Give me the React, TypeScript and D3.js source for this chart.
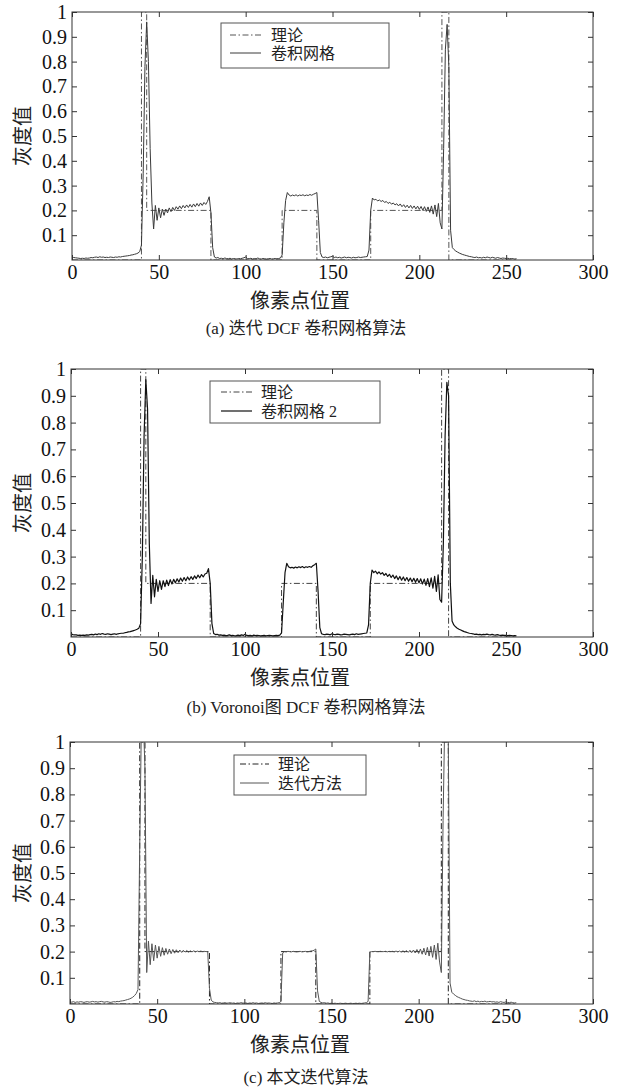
import React, { useEffect, useRef } from "react";
import * as d3 from "d3";

const W = 642;
const H = 1089;

// tick values
const xTicks = [0, 50, 100, 150, 200, 250, 300];
const yTicks = [0.1, 0.2, 0.3, 0.4, 0.5, 0.6, 0.7, 0.8, 0.9, 1];

// theoretical profile (vertices)
const theoryX = [0, 40, 40, 43, 43, 80, 80, 121, 121, 141, 141, 172, 172, 213, 213, 217, 217, 256];
const theoryY = [0, 0, 1, 1, 0.2, 0.2, 0, 0, 0.2, 0.2, 0, 0, 0.2, 0.2, 1, 1, 0, 0];

// (a) iterative DCF gridding, one value per pixel 0..256
const gridA = [
  0.012, 0.010, 0.009, 0.008, 0.007, 0.006, 0.007, 0.006, 0.008, 0.007,
  0.008, 0.010, 0.009, 0.011, 0.012, 0.010, 0.013, 0.011, 0.012, 0.010,
  0.011, 0.010, 0.012, 0.011, 0.010, 0.012, 0.011, 0.013, 0.012, 0.014,
  0.015, 0.016, 0.017, 0.018, 0.020, 0.021, 0.023, 0.025, 0.028, 0.034,
  0.060, 0.350, 0.780, 0.960, 0.800, 0.450, 0.230, 0.125, 0.220, 0.160,
  0.210, 0.170, 0.205, 0.180, 0.205, 0.190, 0.210, 0.195, 0.212, 0.200,
  0.215, 0.205, 0.218, 0.207, 0.220, 0.210, 0.222, 0.212, 0.224, 0.213,
  0.226, 0.215, 0.228, 0.217, 0.230, 0.220, 0.232, 0.224, 0.236, 0.255,
  0.190, 0.050, 0.012, 0.008, 0.010, 0.006, 0.007, 0.005, 0.008, 0.006,
  0.005, 0.007, 0.004, 0.006, 0.005, 0.004, 0.006, 0.005, 0.007, 0.009,
  0.012, 0.006, 0.005, 0.007, 0.004, 0.006, 0.005, 0.008, 0.005, 0.004,
  0.006, 0.005, 0.004, 0.005, 0.006, 0.004, 0.005, 0.006, 0.005, 0.006,
  0.008, 0.020, 0.150, 0.240, 0.272, 0.262, 0.258, 0.262, 0.259, 0.263,
  0.258, 0.262, 0.260, 0.263, 0.259, 0.262, 0.260, 0.264, 0.261, 0.265,
  0.268, 0.272, 0.160, 0.030, 0.012, 0.010, 0.012, 0.009, 0.011, 0.013,
  0.015, 0.010, 0.012, 0.009, 0.011, 0.008, 0.010, 0.012, 0.009, 0.011,
  0.010, 0.008, 0.011, 0.009, 0.010, 0.012, 0.010, 0.011, 0.012, 0.013,
  0.014, 0.040, 0.200, 0.250, 0.242, 0.245, 0.238, 0.242, 0.236, 0.240,
  0.232, 0.236, 0.228, 0.233, 0.225, 0.230, 0.222, 0.227, 0.218, 0.226,
  0.215, 0.223, 0.212, 0.221, 0.210, 0.220, 0.208, 0.218, 0.206, 0.217,
  0.204, 0.216, 0.200, 0.215, 0.196, 0.214, 0.192, 0.218, 0.185, 0.222,
  0.175, 0.228, 0.150, 0.125, 0.450, 0.850, 0.950, 0.780, 0.120, 0.050,
  0.042, 0.036, 0.032, 0.028, 0.025, 0.022, 0.020, 0.018, 0.016, 0.014,
  0.013, 0.011, 0.010, 0.012, 0.009, 0.010, 0.008, 0.011, 0.009, 0.012,
  0.010, 0.008, 0.011, 0.009, 0.007, 0.010, 0.008, 0.006, 0.008, 0.007,
  0.006, 0.007, 0.005, 0.006, 0.005, 0.004, 0.005,
];

// (b) Voronoi DCF gridding
const gridB = [
  0.012, 0.009, 0.008, 0.008, 0.006, 0.007, 0.006, 0.007, 0.006, 0.008,
  0.007, 0.009, 0.010, 0.008, 0.011, 0.009, 0.012, 0.010, 0.013, 0.011,
  0.010, 0.012, 0.011, 0.009, 0.011, 0.012, 0.010, 0.012, 0.013, 0.014,
  0.014, 0.016, 0.017, 0.019, 0.020, 0.022, 0.024, 0.026, 0.029, 0.033,
  0.050, 0.300, 0.750, 0.960, 0.850, 0.350, 0.125, 0.230, 0.150, 0.215,
  0.170, 0.210, 0.178, 0.210, 0.188, 0.212, 0.192, 0.214, 0.198, 0.215,
  0.202, 0.217, 0.205, 0.220, 0.208, 0.222, 0.210, 0.224, 0.213, 0.225,
  0.215, 0.228, 0.218, 0.231, 0.221, 0.233, 0.224, 0.235, 0.238, 0.255,
  0.200, 0.050, 0.013, 0.009, 0.010, 0.007, 0.008, 0.006, 0.007, 0.005,
  0.006, 0.008, 0.005, 0.006, 0.004, 0.005, 0.007, 0.005, 0.008, 0.006,
  0.010, 0.006, 0.005, 0.006, 0.004, 0.007, 0.005, 0.006, 0.005, 0.004,
  0.005, 0.006, 0.004, 0.005, 0.006, 0.005, 0.004, 0.005, 0.006, 0.005,
  0.007, 0.015, 0.130, 0.240, 0.275, 0.262, 0.258, 0.260, 0.257, 0.261,
  0.258, 0.262, 0.259, 0.263, 0.258, 0.262, 0.260, 0.263, 0.260, 0.266,
  0.270, 0.275, 0.170, 0.035, 0.012, 0.010, 0.009, 0.011, 0.010, 0.008,
  0.012, 0.010, 0.009, 0.011, 0.010, 0.008, 0.009, 0.011, 0.010, 0.009,
  0.008, 0.010, 0.011, 0.009, 0.012, 0.010, 0.011, 0.012, 0.013, 0.014,
  0.015, 0.045, 0.200, 0.250, 0.240, 0.246, 0.236, 0.243, 0.235, 0.240,
  0.230, 0.237, 0.226, 0.234, 0.222, 0.231, 0.218, 0.228, 0.214, 0.226,
  0.212, 0.224, 0.210, 0.222, 0.208, 0.220, 0.206, 0.219, 0.204, 0.218,
  0.202, 0.217, 0.198, 0.216, 0.193, 0.218, 0.188, 0.221, 0.182, 0.226,
  0.170, 0.232, 0.140, 0.130, 0.350, 0.750, 0.950, 0.900, 0.200, 0.060,
  0.045, 0.038, 0.033, 0.029, 0.026, 0.023, 0.020, 0.018, 0.016, 0.014,
  0.013, 0.012, 0.010, 0.011, 0.009, 0.010, 0.008, 0.010, 0.009, 0.011,
  0.009, 0.008, 0.010, 0.008, 0.007, 0.009, 0.007, 0.006, 0.007, 0.006,
  0.006, 0.005, 0.006, 0.005, 0.004, 0.005, 0.004,
];

// (c) proposed iterative method
const iterC = [
  0.008, 0.007, 0.009, 0.006, 0.008, 0.007, 0.009, 0.008, 0.006, 0.008,
  0.009, 0.007, 0.008, 0.010, 0.008, 0.009, 0.007, 0.009, 0.010, 0.008,
  0.007, 0.009, 0.008, 0.006, 0.007, 0.009, 0.008, 0.010, 0.009, 0.011,
  0.012, 0.013, 0.015, 0.017, 0.019, 0.022, 0.026, 0.032, 0.040, 0.055,
  0.600, 1.100, 1.100, 0.900, 0.120, 0.240, 0.150, 0.230, 0.165, 0.225,
  0.175, 0.220, 0.182, 0.215, 0.186, 0.212, 0.190, 0.210, 0.192, 0.208,
  0.194, 0.207, 0.196, 0.206, 0.197, 0.205, 0.198, 0.204, 0.198, 0.203,
  0.199, 0.203, 0.199, 0.202, 0.200, 0.202, 0.200, 0.201, 0.200, 0.200,
  0.060, 0.015, 0.008, 0.006, 0.005, 0.004, 0.005, 0.003, 0.004, 0.005,
  0.003, 0.004, 0.005, 0.003, 0.004, 0.002, 0.004, 0.003, 0.005, 0.004,
  0.003, 0.004, 0.002, 0.004, 0.003, 0.005, 0.003, 0.004, 0.002, 0.003,
  0.004, 0.003, 0.005, 0.003, 0.004, 0.003, 0.002, 0.004, 0.003, 0.004,
  0.005, 0.010, 0.195, 0.200, 0.199, 0.201, 0.200, 0.199, 0.201, 0.200,
  0.199, 0.200, 0.201, 0.199, 0.200, 0.201, 0.199, 0.200, 0.202, 0.203,
  0.205, 0.210, 0.050, 0.010, 0.006, 0.004, 0.005, 0.003, 0.004, 0.002,
  0.003, 0.002, 0.003, 0.002, 0.002, 0.003, 0.002, 0.002, 0.003, 0.002,
  0.002, 0.003, 0.002, 0.002, 0.003, 0.002, 0.003, 0.002, 0.003, 0.004,
  0.005, 0.010, 0.198, 0.200, 0.200, 0.201, 0.200, 0.200, 0.201, 0.200,
  0.200, 0.201, 0.199, 0.201, 0.200, 0.201, 0.199, 0.202, 0.199, 0.202,
  0.198, 0.203, 0.198, 0.204, 0.197, 0.205, 0.196, 0.206, 0.195, 0.208,
  0.193, 0.210, 0.190, 0.213, 0.187, 0.216, 0.183, 0.220, 0.178, 0.225,
  0.170, 0.232, 0.160, 0.120, 0.700, 1.100, 1.100, 1.000, 0.080, 0.045,
  0.038, 0.033, 0.028, 0.025, 0.022, 0.019, 0.017, 0.015, 0.014, 0.012,
  0.011, 0.010, 0.012, 0.009, 0.011, 0.008, 0.010, 0.009, 0.011, 0.008,
  0.009, 0.010, 0.008, 0.009, 0.007, 0.008, 0.006, 0.009, 0.007, 0.006,
  0.008, 0.006, 0.005, 0.007, 0.005, 0.004, 0.005,
];

const captions = [
  "(a) 迭代 DCF 卷积网格算法",
  "(b) Voronoi图 DCF 卷积网格算法",
  "(c) 本文迭代算法",
];
const theoryName = "理论";
const seriesNames = ["卷积网格", "卷积网格 2", "迭代方法"];
const xTitle = "像素点位置";
const yTitle = "灰度值";

const SERIF = "'Liberation Serif', 'Times New Roman', 'Noto Sans CJK SC', serif";
const CJK = "'Noto Sans CJK SC', 'Liberation Serif', sans-serif";

const panels = [
  {
    top: 12, bottom: 260, left: 72, right: 593, data: gridA,
    stroke: "#3a3a3a", sw: 1, theoryStroke: "#555",
    legend: { x: 221, y: 23, w: 168, h: 45, s0: 9, s1: 40, tx: 50, r1: 35, r2: 53 },
    xTitleY: 308, capY: 334,
  },
  {
    top: 369, bottom: 637, left: 71, right: 593, data: gridB,
    stroke: "#111", sw: 1.2, theoryStroke: "#444",
    legend: { x: 210, y: 381, w: 170, h: 42, s0: 11, s1: 42, tx: 51, r1: 392, r2: 411 },
    xTitleY: 685, capY: 713,
  },
  {
    top: 742, bottom: 1004, left: 70, right: 593, data: iterC,
    stroke: "#555", sw: 1, theoryStroke: "#222",
    legend: { x: 234, y: 755, w: 132, h: 40, s0: 6, s1: 35, tx: 44, r1: 764, r2: 783 },
    xTitleY: 1052, capY: 1083,
  },
];

const DASHDOT = "6,2.5,1.5,2.5";

function drawPanel(svg, p, i) {
  const g = svg.append("g");
  const x = d3.scaleLinear().domain([0, 300]).range([p.left, p.right]);
  const y = d3.scaleLinear().domain([0, 1]).range([p.bottom, p.top]);

  const clipId = "plotclip" + i;
  g.append("clipPath")
    .attr("id", clipId)
    .append("rect")
    .attr("x", p.left)
    .attr("y", p.top)
    .attr("width", p.right - p.left)
    .attr("height", p.bottom - p.top);

  const line = d3
    .line()
    .x((d) => x(d[0]))
    .y((d) => y(d[1]));

  const plot = g.append("g").attr("clip-path", `url(#${clipId})`);

  // theory (dash-dot)
  plot
    .append("path")
    .datum(theoryX.map((v, k) => [v, theoryY[k]]))
    .attr("d", line)
    .attr("fill", "none")
    .attr("stroke", p.theoryStroke)
    .attr("stroke-width", 1)
    .attr("stroke-dasharray", DASHDOT);

  // reconstruction
  plot
    .append("path")
    .datum(p.data.map((v, k) => [k, v]))
    .attr("d", line)
    .attr("fill", "none")
    .attr("stroke", p.stroke)
    .attr("stroke-width", p.sw)
    .attr("stroke-linejoin", "round");

  // axes, ticks pointing inward on every side
  const styleAxis = (sel) => {
    sel.attr("font-family", null).attr("font-size", null);
    sel.select(".domain").remove();
    sel.selectAll("line").attr("stroke", "#333");
    sel
      .selectAll("text")
      .attr("fill", "#111")
      .style("font-family", SERIF)
      .style("font-size", "20px");
  };
  g.append("g")
    .attr("transform", `translate(0,${p.bottom})`)
    .call(d3.axisBottom(x).tickValues(xTicks).tickSizeInner(-5).tickSizeOuter(0).tickPadding(5))
    .call(styleAxis);
  g.append("g")
    .attr("transform", `translate(0,${p.top})`)
    .call(d3.axisTop(x).tickValues(xTicks).tickSizeInner(-5).tickSizeOuter(0).tickFormat(() => ""))
    .call(styleAxis);
  g.append("g")
    .attr("transform", `translate(${p.left},0)`)
    .call(
      d3.axisLeft(y).tickValues(yTicks).tickSizeInner(-5).tickSizeOuter(0).tickPadding(5)
        .tickFormat(d3.format("~g"))
    )
    .call(styleAxis);
  g.append("g")
    .attr("transform", `translate(${p.right},0)`)
    .call(d3.axisRight(y).tickValues(yTicks).tickSizeInner(-5).tickSizeOuter(0).tickFormat(() => ""))
    .call(styleAxis);

  // frame
  g.append("rect")
    .attr("x", p.left)
    .attr("y", p.top)
    .attr("width", p.right - p.left)
    .attr("height", p.bottom - p.top)
    .attr("fill", "none")
    .attr("stroke", "#333")
    .attr("stroke-width", 1);

  // legend
  const L = p.legend;
  const lg = g.append("g");
  lg.append("rect")
    .attr("x", L.x)
    .attr("y", L.y)
    .attr("width", L.w)
    .attr("height", L.h)
    .attr("fill", "#fff")
    .attr("stroke", "#555")
    .attr("stroke-width", 1);
  lg.append("line")
    .attr("x1", L.x + L.s0)
    .attr("x2", L.x + L.s1)
    .attr("y1", L.r1)
    .attr("y2", L.r1)
    .attr("stroke", p.theoryStroke)
    .attr("stroke-dasharray", DASHDOT);
  lg.append("line")
    .attr("x1", L.x + L.s0)
    .attr("x2", L.x + L.s1)
    .attr("y1", L.r2)
    .attr("y2", L.r2)
    .attr("stroke", p.stroke)
    .attr("stroke-width", p.sw);
  [theoryName, seriesNames[i]].forEach((t, k) => {
    lg.append("text")
      .attr("x", L.x + L.tx)
      .attr("y", (k === 0 ? L.r1 : L.r2) + 5.5)
      .style("font-family", SERIF)
      .style("font-size", "16px")
      .attr("fill", "#222")
      .text(t);
  });

  // axis titles
  g.append("text")
    .attr("x", 300)
    .attr("y", p.xTitleY)
    .attr("text-anchor", "middle")
    .style("font-family", CJK)
    .style("font-size", "20px")
    .attr("fill", "#222")
    .text(xTitle);
  g.append("text")
    .attr("transform", `translate(30,${(p.top + p.bottom) / 2}) rotate(-90)`)
    .attr("text-anchor", "middle")
    .style("font-family", CJK)
    .style("font-size", "20px")
    .attr("fill", "#222")
    .text(yTitle);

  // caption
  g.append("text")
    .attr("x", 306)
    .attr("y", p.capY)
    .attr("text-anchor", "middle")
    .style("font-family", SERIF)
    .style("font-size", "17px")
    .attr("fill", "#222")
    .text(captions[i]);
}

export default function App() {
  const svgRef = useRef(null);

  useEffect(() => {
    const svg = d3.select(svgRef.current);
    svg.selectAll("*").remove();
    svg.append("rect").attr("width", W).attr("height", H).attr("fill", "#fff");
    panels.forEach((p, i) => drawPanel(svg, p, i));
  }, []);

  return (
    <div style={{ position: "absolute", left: 0, top: 0 }}>
      <svg ref={svgRef} width={W} height={H} style={{ display: "block" }} />
    </div>
  );
}
